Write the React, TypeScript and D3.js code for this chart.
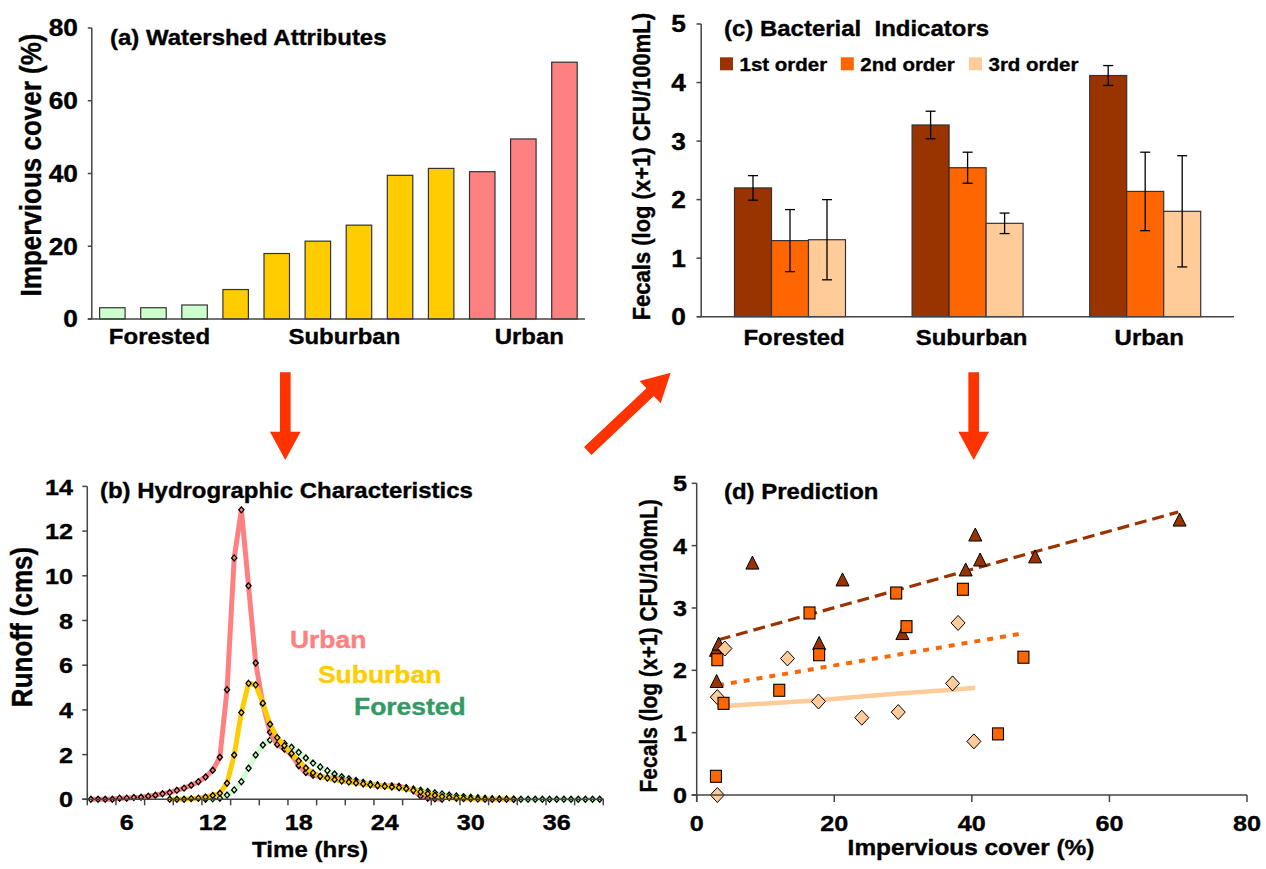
import React from 'react';
import * as d3 from 'd3';

const FONT = '"Liberation Sans", Arial, Helvetica, sans-serif';
const SX = 1.12; // the source lettering is a little wider than Arial

// (a) watershed attributes
const watershedClass = ['Forested', 'Forested', 'Forested', 'Suburban', 'Suburban', 'Suburban', 'Suburban', 'Suburban', 'Suburban', 'Urban', 'Urban', 'Urban'];
const imperviousCover = [3.1, 3.1, 3.85, 8.1, 18.0, 21.4, 25.8, 39.5, 41.4, 40.5, 49.5, 70.6];
const landUse = ['Forested', 'Suburban', 'Urban'];
const landColor: Record<string, string> = { Forested: '#ccffcc', Suburban: '#ffcc00', Urban: '#ff8080' };
const coverTicks = [0, 20, 40, 60, 80];

// (b) hydrographs, half-hour steps
const urbanStart = 3.5;
const urbanRunoff = [0, 0, 0, 0, 0.05, 0.05, 0.08, 0.09, 0.14, 0.18, 0.25, 0.3, 0.4, 0.5, 0.63, 0.79, 1.0, 1.3, 1.88,
  4.9, 10.8, 12.95, 9.55, 6.1, 4.25, 3.0, 2.45, 2.25, 2.0, 1.5, 1.2, 1.08, 1.02, 0.97, 0.93, 0.88, 0.82, 0.76, 0.7,
  0.65, 0.62, 0.6, 0.6, 0.58, 0.52, 0.38, 0.15, 0.05, 0.02, 0];
const suburbanStart = 9;
const suburbanRunoff = [0, 0, 0, 0.03, 0.05, 0.1, 0.17, 0.27, 0.72, 1.98, 3.88, 5.19, 5.12, 4.3, 3.36, 2.76, 2.4, 2.05,
  1.72, 1.4, 1.18, 1.03, 0.95, 0.88, 0.82, 0.77, 0.73, 0.69, 0.65, 0.61, 0.58, 0.55, 0.52, 0.47, 0.4, 0.33, 0.25, 0.18,
  0.12, 0.08, 0.05, 0.03, 0.02, 0.01, 0, 0, 0, 0, 0];
const forestedStart = 11.5;
const forestedRunoff = [0, 0.02, 0.05, 0.19, 0.42, 0.79, 1.39, 1.98, 2.43, 2.65, 2.6, 2.5, 2.33, 2.1, 1.85, 1.62, 1.45,
  1.28, 1.13, 1.01, 0.92, 0.84, 0.76, 0.7, 0.65, 0.61, 0.58, 0.55, 0.51, 0.46, 0.41, 0.35, 0.29, 0.24, 0.19, 0.15, 0.12,
  0.09, 0.07, 0.05, 0.03, 0.02, 0.01, 0, 0, 0, 0, 0, 0, 0, 0, 0, 0, 0, 0, 0];
const runoffTicks = [0, 2, 4, 6, 8, 10, 12, 14];
const timeLabels = [6, 12, 18, 24, 30, 36];

// (c) bacterial indicators
const streamOrders = ['1st order', '2nd order', '3rd order'];
const orderColor = ['#993300', '#ff6600', '#ffcc99'];
const fecal1st = [2.2, 3.275, 4.12];
const fecal2nd = [1.3, 2.545, 2.14];
const fecal3rd = [1.315, 1.595, 1.8];
const err1st = [0.21, 0.235, 0.17];
const err2nd = [0.53, 0.265, 0.67];
const err3rd = [0.685, 0.175, 0.95];
const fecalTicks = [0, 1, 2, 3, 4, 5];

// (d) prediction
const tri1stX = [2.8, 3.2, 2.9, 8.1, 17.8, 21.2, 29.9, 39.1, 40.5, 41.2, 49.2, 70.2];
const tri1stY = [2.32, 2.42, 1.82, 3.72, 2.43, 3.45, 2.59, 3.61, 4.17, 3.77, 3.82, 4.41];
const sq2ndX = [3.0, 3.9, 2.8, 12.0, 16.4, 17.8, 29.0, 30.5, 38.7, 43.8, 47.5];
const sq2ndY = [2.17, 1.47, 0.3, 1.68, 2.92, 2.25, 3.24, 2.7, 3.3, 0.98, 2.21];
const dia3rdX = [3.0, 4.1, 3.0, 13.2, 17.7, 24.0, 29.3, 38.0, 37.2, 40.3];
const dia3rdY = [1.57, 2.35, 0.0, 2.19, 1.5, 1.24, 1.33, 2.76, 1.79, 0.86];
const fit1stX = [3.2, 70.0];
const fit1stY = [2.49, 4.54];
const fit2ndX = [3.1, 47.8];
const fit2ndY = [1.76, 2.6];
const fit3rdX = [3.0, 17.7, 24.0, 29.3, 37.2, 40.5];
const fit3rdY = [1.42, 1.52, 1.58, 1.63, 1.69, 1.72];
const coverTicksD = [0, 20, 40, 60, 80];

const Txt = ({ x, y, size, children, anchor = 'start', fill = '#000', rot = 0, dy }: any) => (
  <text
    transform={`translate(${x},${y}) scale(${SX},1)` + (rot ? ` rotate(${rot})` : '')}
    fontSize={size}
    fontFamily={FONT}
    fontWeight="bold"
    textAnchor={anchor}
    fill={fill}
    stroke={fill}
    strokeWidth={0.35}
    dy={dy}
  >
    {children}
  </text>
);

const AX = '#444';

function arrowPoints(x1: number, y1: number, x2: number, y2: number, shaft = 10.7, head = 30.7, headLen = 28.3) {
  const len = Math.hypot(x2 - x1, y2 - y1);
  const ux = (x2 - x1) / len, uy = (y2 - y1) / len;
  const px = -uy, py = ux;
  const bx = x2 - ux * headLen, by = y2 - uy * headLen;
  const p = (x: number, y: number, w: number) => `${x + px * w},${y + py * w}`;
  return [p(x1, y1, shaft / 2), p(bx, by, shaft / 2), p(bx, by, head / 2), `${x2},${y2}`,
    p(bx, by, -head / 2), p(bx, by, -shaft / 2), p(x1, y1, -shaft / 2)].join(' ');
}

function PanelA() {
  const xA = d3.scaleBand<number>().domain(d3.range(imperviousCover.length)).range([91.8, 585]).paddingInner(0.38).paddingOuter(0.19);
  const yA = d3.scaleLinear().domain([0, 80]).range([319, 28]);
  const bw = xA.bandwidth();
  const groupCenter = (g: string) =>
    d3.mean(d3.range(watershedClass.length).filter(i => watershedClass[i] === g), i => (xA(i) as number) + bw / 2) as number;
  return (
    <g>
      {imperviousCover.map((v, i) => (
        <rect key={i} x={xA(i)} y={yA(v)} width={bw} height={yA(0) - yA(v)}
          fill={landColor[watershedClass[i]]} stroke="#333" strokeWidth={1.2} />
      ))}
      <line x1={xA.range()[0]} x2={xA.range()[0]} y1={yA(0)} y2={yA(80)} stroke={AX} strokeWidth={1.5} />
      <line x1={xA.range()[0] - 4} x2={xA.range()[1]} y1={yA(0)} y2={yA(0)} stroke={AX} strokeWidth={1.5} />
      {coverTicks.map(t => (
        <g key={t}>
          <line x1={87.8} x2={91.8} y1={yA(t)} y2={yA(t)} stroke={AX} strokeWidth={1.5} />
          <Txt x={78} y={yA(t)} size={23.5} anchor="end" dy="0.36em">{t}</Txt>
        </g>
      ))}
      {landUse.map(g => (
        <Txt key={g} x={groupCenter(g) + 6} y={344} size={21.4} anchor="middle">{g}</Txt>
      ))}
      <Txt x={110} y={45} size={21.4}>(a) Watershed Attributes</Txt>
      <Txt x={40.5} y={165} size={26} anchor="middle" rot={-90}>Impervious cover (%)</Txt>
    </g>
  );
}

function PanelB() {
  const xB = d3.scaleLinear().domain([6, 36]).range([126.7, 556.7]);
  const yB = d3.scaleLinear().domain([0, 14]).range([799.3, 486.4]);
  const x0 = xB(3.25), x1 = xB(39.3);
  const series = [
    { name: 'Forested', start: forestedStart, vals: forestedRunoff, color: '#ccffcc' },
    { name: 'Urban', start: urbanStart, vals: urbanRunoff, color: '#ff8080' },
    { name: 'Suburban', start: suburbanStart, vals: suburbanRunoff, color: '#ffcc00' },
  ];
  const line = d3.line<[number, number]>().x(d => xB(d[0])).y(d => yB(d[1]));
  const timeTicks = d3.range(3.25, 39.3, 2);
  return (
    <g>
      {series.map(s => {
        const pts: [number, number][] = s.vals.map((v, i) => [s.start + i * 0.5, v]);
        return (
          <g key={s.name}>
            <path d={line(pts) as string} fill="none" stroke={s.color} strokeWidth={5} strokeLinejoin="round" />
            {pts.map((p, i) => {
              const cx = xB(p[0]), cy = yB(p[1]);
              return <path key={i} d={`M${cx},${cy - 3}L${cx + 2.6},${cy}L${cx},${cy + 3}L${cx - 2.6},${cy}Z`}
                fill="none" stroke="#000" strokeWidth={1.3} />;
            })}
          </g>
        );
      })}
      <line x1={x0} x2={x0} y1={yB(0)} y2={yB(14)} stroke={AX} strokeWidth={1.5} />
      <line x1={x0 - 5} x2={x1} y1={yB(0)} y2={yB(0)} stroke={AX} strokeWidth={1.5} />
      {runoffTicks.map(t => (
        <g key={t}>
          <line x1={x0 - 5} x2={x0} y1={yB(t)} y2={yB(t)} stroke={AX} strokeWidth={1.5} />
          <Txt x={73} y={yB(t)} size={22.5} anchor="end" dy="0.36em">{t}</Txt>
        </g>
      ))}
      {timeTicks.map(t => (
        <line key={t} x1={xB(t)} x2={xB(t)} y1={yB(0)} y2={yB(0) + 6} stroke={AX} strokeWidth={1.5} />
      ))}
      {timeLabels.map(t => (
        <Txt key={t} x={xB(t)} y={830} size={22.5} anchor="middle">{t}</Txt>
      ))}
      <Txt x={310} y={857} size={21.5} anchor="middle">Time (hrs)</Txt>
      <Txt x={32} y={627} size={26} anchor="middle" rot={-90}>Runoff (cms)</Txt>
      <Txt x={100} y={498} size={21.4}>(b) Hydrographic Characteristics</Txt>
      <Txt x={290} y={648} size={23.6} fill="#ff8080">Urban</Txt>
      <Txt x={318} y={682.5} size={23.6} fill="#ffcc00">Suburban</Txt>
      <Txt x={354} y={715} size={23.6} fill="#339966">Forested</Txt>
    </g>
  );
}

function PanelC() {
  const xC0 = d3.scaleBand<string>().domain(landUse).range([701.2, 1234]).paddingInner(0.375).paddingOuter(0.1875);
  const xC1 = d3.scaleBand<number>().domain([0, 1, 2]).range([0, xC0.bandwidth()]);
  const yC = d3.scaleLinear().domain([0, 5]).range([316.7, 24]);
  const means = [fecal1st, fecal2nd, fecal3rd];
  const errs = [err1st, err2nd, err3rd];
  const legendX = [720, 840.8, 969];
  return (
    <g>
      {landUse.map((g, gi) => (
        <g key={g}>
          {means.map((m, oi) => {
            const x = (xC0(g) as number) + (xC1(oi) as number);
            const w = xC1.bandwidth();
            const cx = x + w / 2;
            return (
              <g key={oi}>
                <rect x={x} y={yC(m[gi])} width={w} height={yC(0) - yC(m[gi])} fill={orderColor[oi]} stroke="#333" strokeWidth={1.2} />
                <line x1={cx} x2={cx} y1={yC(m[gi] - errs[oi][gi])} y2={yC(m[gi] + errs[oi][gi])} stroke="#000" strokeWidth={1.3} />
                <line x1={cx - 5} x2={cx + 5} y1={yC(m[gi] + errs[oi][gi])} y2={yC(m[gi] + errs[oi][gi])} stroke="#000" strokeWidth={1.3} />
                <line x1={cx - 5} x2={cx + 5} y1={yC(m[gi] - errs[oi][gi])} y2={yC(m[gi] - errs[oi][gi])} stroke="#000" strokeWidth={1.3} />
              </g>
            );
          })}
          <Txt x={(xC0(g) as number) + xC0.bandwidth() / 2 + 4} y={345} size={21.4} anchor="middle">{g}</Txt>
        </g>
      ))}
      <line x1={701.2} x2={701.2} y1={yC(0)} y2={yC(5)} stroke={AX} strokeWidth={1.5} />
      <line x1={697} x2={1234} y1={yC(0)} y2={yC(0)} stroke={AX} strokeWidth={1.5} />
      {fecalTicks.map(t => (
        <g key={t}>
          <line x1={696.5} x2={701.2} y1={yC(t)} y2={yC(t)} stroke={AX} strokeWidth={1.5} />
          <Txt x={686} y={yC(t)} size={23.5} anchor="end" dy="0.36em">{t}</Txt>
        </g>
      ))}
      {streamOrders.map((o, i) => (
        <g key={o}>
          <rect x={legendX[i]} y={57.3} width={13} height={13} fill={orderColor[i]} />
          <Txt x={legendX[i] + 19.5} y={70.7} size={18.3}>{o}</Txt>
        </g>
      ))}
      <Txt x={724} y={36} size={21.4}>(c) Bacterial{'\u00a0\u00a0'}Indicators</Txt>
      <Txt x={650} y={166.7} size={22} anchor="middle" rot={-90}>Fecals (log (x+1) CFU/100mL)</Txt>
    </g>
  );
}

function PanelD() {
  const xD = d3.scaleLinear().domain([0, 80]).range([696.7, 1247]);
  const yD = d3.scaleLinear().domain([0, 5]).range([795, 483.3]);
  const fit = (xs: number[], ys: number[]) =>
    d3.line<number>().x(i => xD(xs[i])).y(i => yD(ys[i]))(d3.range(xs.length)) as string;
  return (
    <g>
      <path d={fit(fit3rdX, fit3rdY)} fill="none" stroke="#ffcc99" strokeWidth={4.5} />
      <path d={fit(fit2ndX, fit2ndY)} fill="none" stroke="#ff6600" strokeWidth={4} strokeDasharray="6,7" />
      <path d={fit(fit1stX, fit1stY)} fill="none" stroke="#993300" strokeWidth={3.2} strokeDasharray="12,6" />
      {tri1stX.map((v, i) => {
        const cx = xD(v), cy = yD(tri1stY[i]);
        return <path key={'t' + i} d={`M${cx},${cy - 7}L${cx + 6.5},${cy + 6}L${cx - 6.5},${cy + 6}Z`} fill="#993300" stroke="#000" strokeWidth={1} />;
      })}
      {dia3rdX.map((v, i) => {
        const cx = xD(v), cy = yD(dia3rdY[i]);
        return <path key={'d' + i} d={`M${cx},${cy - 7.5}L${cx + 7},${cy}L${cx},${cy + 7.5}L${cx - 7},${cy}Z`} fill="#ffcc99" stroke="#000" strokeWidth={1} />;
      })}
      {sq2ndX.map((v, i) => {
        const cx = xD(v), cy = yD(sq2ndY[i]);
        return <rect key={'s' + i} x={cx - 5.5} y={cy - 6} width={11} height={12} fill="#ff6600" stroke="#000" strokeWidth={1.1} />;
      })}
      <line x1={xD(0)} x2={xD(0)} y1={yD(0) + 7} y2={yD(5)} stroke={AX} strokeWidth={1.5} />
      <line x1={xD(0) - 5} x2={xD(80)} y1={yD(0)} y2={yD(0)} stroke={AX} strokeWidth={1.5} />
      {fecalTicks.map(t => (
        <g key={t}>
          <line x1={xD(0) - 5} x2={xD(0)} y1={yD(t)} y2={yD(t)} stroke={AX} strokeWidth={1.5} />
          <Txt x={687} y={yD(t)} size={22.5} anchor="end" dy="0.36em">{t}</Txt>
        </g>
      ))}
      {coverTicksD.map(t => (
        <g key={t}>
          <line x1={xD(t)} x2={xD(t)} y1={yD(0)} y2={yD(0) + 7} stroke={AX} strokeWidth={1.5} />
          <Txt x={xD(t)} y={831} size={22.5} anchor="middle">{t}</Txt>
        </g>
      ))}
      <Txt x={971} y={855} size={21.8} anchor="middle">Impervious cover (%)</Txt>
      <Txt x={657} y={645.8} size={21} anchor="middle" rot={-90}>Fecals (log (x+1) CFU/100mL)</Txt>
      <Txt x={724} y={499} size={21.4}>(d) Prediction</Txt>
    </g>
  );
}

export default function App() {
  const arrows = [
    [285.3, 372.3, 285.3, 460],
    [587.7, 451, 670.7, 372.7],
    [973.7, 372.3, 973.7, 460],
  ];
  return (
    <svg width={1266} height={869} style={{ position: 'absolute', left: 0, top: 0, background: '#fff' }}>
      <PanelA />
      <PanelB />
      <PanelC />
      <PanelD />
      {arrows.map((a, i) => (
        <polygon key={i} points={arrowPoints(a[0], a[1], a[2], a[3])} fill="#ff3300" />
      ))}
    </svg>
  );
}
